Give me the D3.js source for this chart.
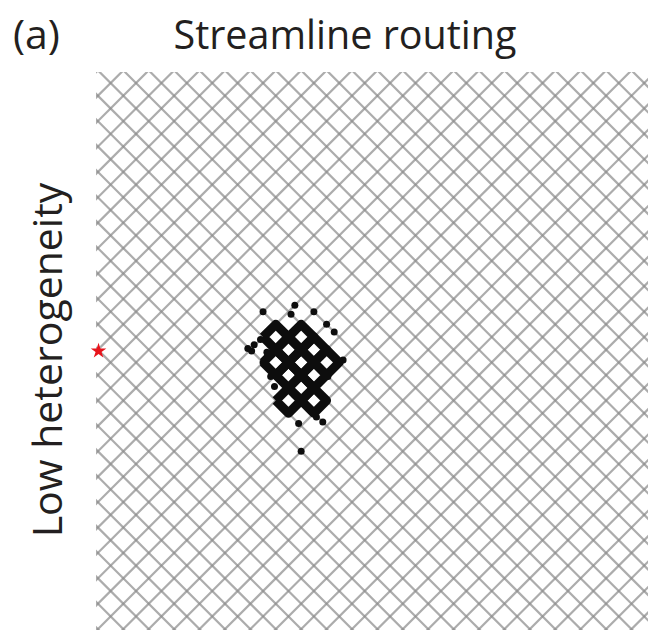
<!DOCTYPE html>
<html><head><meta charset="utf-8">
<script src="https://cdn.jsdelivr.net/npm/d3@7"></script>
<style>body{margin:0;background:#fff}svg{display:block}</style>
</head><body>
<svg id="c" width="648" height="633"></svg>
<script>
// ---- data (lattice coordinates: nodes at integer (a,b) with a+b even) ----
const panelLabel = "(a)";
const title = "Streamline routing";
const rowLabel = "Low heterogeneity";
const xDomain = [-1.15, 42.3];
const yDomain = [-0.87, 43.07];
const lineSpacing = 2;                // streamlines: a+b = 2k and a-b = 2k
const source = [[-0.95, 21.1]];       // injection point (red star)
// lattice cells (diamond centres) fully traced by the particle swarm
const swarmCells = [[13,20],[15,20],[14,21],[16,21],[13,22],[15,22],[17,22],
                    [14,23],[16,23],[15,24],[14,25],[16,25]];
// isolated particles
const particles = [[14.5,17.5],[12,18],[14.2,18.2],[16,18],[17,19],[17.6,19.6],
                   [13,19],[10.8,20.9],[11.3,20.6],[11.8,20.2],[11.1,21.1],[12,22],[12.6,23.1],
                   [12.9,23.9],[14.8,26.8],[16.2,26.3],[16.7,26.7],[17.1,23.1],[15,29],
                   [18.3,21.8],[12.3,21.2]];

// ---- drawing ----
const svg = d3.select("#c");
const x = d3.scaleLinear().domain(xDomain).range([96, 648]);
const y = d3.scaleLinear().domain(yDomain).range([72, 630]);

const defs = svg.append("defs");
defs.append("clipPath").attr("id","clip")
  .append("rect")
  .attr("x", x(xDomain[0])).attr("y", y(yDomain[0]))
  .attr("width", x(xDomain[1]) - x(xDomain[0]))
  .attr("height", y(yDomain[1]) - y(yDomain[0]));
defs.append("filter").attr("id","soft")
  .append("feGaussianBlur").attr("stdDeviation", 0.55);

const grid = svg.append("g").attr("clip-path","url(#clip)").attr("filter","url(#soft)");
const diagUp = d3.range(-4, 92, lineSpacing);     // a + b = c
const diagDown = d3.range(-50, 50, lineSpacing);  // a - b = c
const ext = [-10, 60];
const lineGen = d3.line().x(d => x(d[0])).y(d => y(d[1]));
grid.selectAll("path.u").data(diagUp).join("path").attr("class","u")
  .attr("d", c => lineGen(ext.map(a => [a, c - a])))
  .attr("fill","none").attr("stroke","#8c8c8c").attr("stroke-opacity",0.72).attr("stroke-width",2.2);
grid.selectAll("path.d").data(diagDown).join("path").attr("class","d")
  .attr("d", c => lineGen(ext.map(a => [a, a - c])))
  .attr("fill","none").attr("stroke","#8c8c8c").attr("stroke-opacity",0.72).attr("stroke-width",2.2);

// swarm cells traced by particles
const swarm = svg.append("g").attr("filter","url(#soft)");
const cellPath = ([p,q]) => lineGen([[p-1,q],[p,q-1],[p+1,q],[p,q+1],[p-1,q]]);
swarm.selectAll("path").data(swarmCells).join("path")
  .attr("d", cellPath).attr("fill","none").attr("stroke","#111")
  .attr("stroke-width",9).attr("stroke-linejoin","round");
swarm.selectAll("circle").data(particles).join("circle")
  .attr("cx", d => x(d[0])).attr("cy", d => y(d[1])).attr("r", 3.5).attr("fill","#111");

svg.append("g").selectAll("path").data(source).join("path")
  .attr("transform", d => `translate(${x(d[0])},${y(d[1])})`)
  .attr("d", d3.symbol(d3.symbolStar).size(75)).attr("fill","#e8131b");

// text
const font = "'Open Sans', sans-serif";
svg.append("text").attr("x", 13).attr("y", 49).text(panelLabel)
  .attr("font-family", font).attr("font-size", 41).attr("fill","#231f20");
svg.append("text").attr("x", 345).attr("y", 49).attr("text-anchor","middle").text(title)
  .attr("font-family", font).attr("font-size", 39.5).attr("fill","#231f20");
svg.append("text").attr("transform","translate(62,360) rotate(-90)").attr("text-anchor","middle")
  .text(rowLabel).attr("font-family", font).attr("font-size", 41).attr("fill","#231f20");
</script>
</body></html>
